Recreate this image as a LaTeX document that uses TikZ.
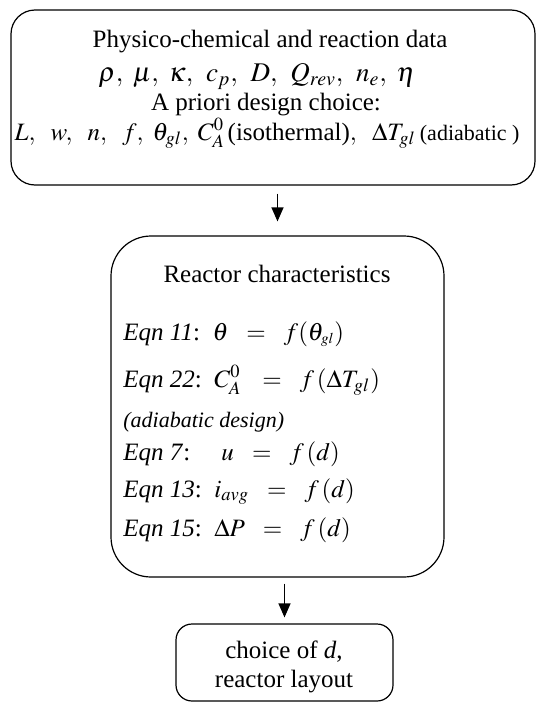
\documentclass[tikz,border=0pt]{standalone}
\usepackage{mathptmx}
\usepackage[no-math]{fontspec}
\setmainfont{Liberation Serif}
\usetikzlibrary{arrows.meta}

\tikzset{
  box/.style={draw, line width=0.6pt, inner sep=0pt},
  txt/.style={inner sep=0pt, anchor=base, font=\fontsize{12.5}{15}\selectfont},
  eqn/.style={txt, anchor=base west},
  flow/.style={-{Triangle[length=7pt,width=6pt]}, line width=0.6pt}
}

\begin{document}
\begin{tikzpicture}[x=0.5pt, y=-0.5pt]
  % Page frame
  \useasboundingbox (0,0) rectangle (536,702);
  % Boxes
  \node[box, rounded corners=12pt, minimum width=262pt, minimum height=87.5pt]
    (data) at (273,97.5) {};
  \node[box, rounded corners=20pt, minimum width=166.5pt, minimum height=170.5pt]
    (chars) at (277.5,406.5) {};
  \node[box, rounded corners=8pt, minimum width=108.5pt, minimum height=38.5pt]
    (choice) at (284.5,662.5) {};
  % Input data
  \node[txt] (datatitle) at (270,47) {Physico-chemical and reaction data};
  \node[txt, font=\fontsize{13.5}{16}\selectfont] (props) at (257,81)
    {$\rho,\ \mu,\ \kappa,\ \,c_{p},\ \,D,\ \,Q_{rev},\ \,n_{e},\ \eta$};
  \node[txt] (priori) at (266,110) {A priori design choice:};
  \node[txt] (design) at (267,140)
    {$L,\ \ w,\ \ n,\ \ f,\ \theta_{gl},\ C_A^0\,$(isothermal)$,\ \ \Delta T_{gl}$\,{\fontsize{11}{13}\selectfont(adiabatic )}};
  % Reactor characteristics
  \node[txt] (charstitle) at (277,282) {Reactor characteristics};
  \node[eqn] (eqa) at (123,340)
    {\textit{Eqn 11}:\ \ $\theta\ \ =\ \ f(\theta_{\scriptscriptstyle gl})$};
  \node[eqn] (eqb) at (123,387)
    {\textit{Eqn 22}:\ \ $C_A^0\ \ \,=\ \ f\,(\Delta T_{gl})$};
  \node[eqn, font=\fontsize{11}{13}\selectfont\itshape] (adiab) at (123,427)
    {(adiabatic design)};
  \node[eqn] (eqc) at (123,460)
    {\textit{Eqn 7}:\ \ \ \ \ $u\ \ =\ \ f\,(d)$};
  \node[eqn] (eqd) at (123,497)
    {\textit{Eqn 13}:\ \ $i_{avg}\ \ =\ \ f\,(d)$};
  \node[eqn] (eqe) at (123,536)
    {\textit{Eqn 15}:\ \ $\Delta P\ \ =\ \ f\,(d)$};
  % Result
  \node[txt] (choiceA) at (284,658) {choice of \textit{d},};
  \node[txt] (choiceB) at (284,687) {reactor layout};
  % Arrows
  \draw[flow, shorten <=4pt, shorten >=7pt] (data.south -| chars.north) -- (chars.north);
  \draw[flow, shorten <=3pt, shorten >=3pt] (chars.south -| choice.north) -- (choice.north);
\end{tikzpicture}
\end{document}
